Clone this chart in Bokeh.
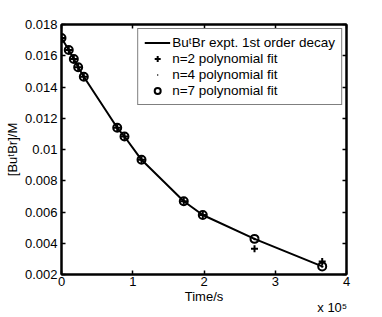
from bokeh.plotting import figure
from bokeh.models import Range1d, LinearAxis, FixedTicker, Legend, LegendItem
from bokeh.embed import file_html
from bokeh.resources import INLINE

# ---- data ----
time_s = [0, 10200, 17300, 23400, 31300, 78200, 88400, 112300, 171600, 198300, 270900, 365900]
conc_expt = [0.01714, 0.01637, 0.01579, 0.01526, 0.01466, 0.01139, 0.01083, 0.00934,
             0.00669, 0.00581, 0.00428, 0.00252]
fit_n2 = [0.01714, 0.01637, 0.01579, 0.01526, 0.01466, 0.01139, 0.01083, 0.00934,
          0.00669, 0.00581, 0.00365, 0.00283]
fit_n4 = [0.01714, 0.01637, 0.01579, 0.01526, 0.01466, 0.01139, 0.01083, 0.00934,
          0.00669, 0.00581, 0.00428, 0.00252]
fit_n7 = [0.01714, 0.01637, 0.01579, 0.01526, 0.01466, 0.01139, 0.01083, 0.00934,
          0.00669, 0.00581, 0.00428, 0.00252]

xtick_vals = [0, 100000, 200000, 300000, 400000]
xtick_labels = ["0", "1", "2", "3", "4"]
ytick_vals = [0.002, 0.004, 0.006, 0.008, 0.01, 0.012, 0.014, 0.016, 0.018]
ytick_labels = ["0.002", "0.004", "0.006", "0.008", "0.01", "0.012", "0.014", "0.016", "0.018"]

legend_labels = ["Bu\u1d57Br expt. 1st order decay", "n=2 polynomial fit",
                 "n=4 polynomial fit", "n=7 polynomial fit"]
x_label = "Time/s"
x_multiplier = "x 10\u2075"
y_label = "[Bu\u1d57Br]/M"

FONT = "Liberation Sans"

p = figure(width=382, height=317, output_backend="svg", toolbar_location=None,
           x_range=Range1d(0, 400000), y_range=Range1d(0.002, 0.018),
           min_border_left=61, min_border_right=36, min_border_top=24, min_border_bottom=38,
           y_axis_label=y_label)
p.xgrid.visible = False
p.ygrid.visible = False
p.outline_line_color = "black"
p.outline_line_width = 2
p.background_fill_color = "white"
p.border_fill_color = "white"

for ax, vals, labs in ((p.xaxis[0], xtick_vals, xtick_labels), (p.yaxis[0], ytick_vals, ytick_labels)):
    ax.ticker = FixedTicker(ticks=vals)
    ax.major_label_overrides = {v: l for v, l in zip(vals, labs)}
    ax.major_tick_in = 4
    ax.major_tick_out = 0
    ax.minor_tick_line_color = None
    ax.axis_line_width = 2
    ax.major_tick_line_width = 1.5
    ax.axis_line_color = "black"
    ax.major_tick_line_color = "black"
    ax.major_label_text_font = FONT
    ax.major_label_text_font_size = "13px"
    ax.major_label_text_color = "black"
    ax.axis_label_text_font = FONT
    ax.axis_label_text_font_size = "13px"
    ax.axis_label_text_font_style = "normal"
    ax.axis_label_text_color = "black"

p.yaxis[0].major_label_standoff = 4
p.yaxis[0].axis_label_standoff = 2
p.xaxis[0].major_label_standoff = 2


def text_axis(ticks, labels, standoff):
    ax = LinearAxis(ticker=FixedTicker(ticks=ticks),
                    major_label_overrides={t: l for t, l in zip(ticks, labels)})
    ax.axis_line_color = None
    ax.major_tick_line_color = None
    ax.minor_tick_line_color = None
    ax.major_tick_in = 0
    ax.major_tick_out = 0
    ax.major_label_standoff = standoff
    ax.major_label_text_font = FONT
    ax.major_label_text_font_size = "13px"
    ax.major_label_text_color = "black"
    return ax


# mark-less axes below carrying "Time/s" and the x 10^5 multiplier
p.add_layout(text_axis([200000], [x_label], 0), "below")
p.add_layout(text_axis([380000], [x_multiplier], -7), "below")

# box axes (top/right) with inward ticks, no labels
top = LinearAxis(ticker=FixedTicker(ticks=xtick_vals))
right = LinearAxis(ticker=FixedTicker(ticks=ytick_vals))
for ax in (top, right):
    ax.major_tick_in = 4
    ax.major_tick_out = 0
    ax.minor_tick_line_color = None
    ax.axis_line_width = 2
    ax.major_tick_line_width = 1.5
    ax.major_label_text_font_size = "1px"
    ax.major_label_text_alpha = 0
    ax.major_label_standoff = 0
p.add_layout(top, "above")
p.add_layout(right, "right")

r_line = p.line(time_s, conc_expt, line_color="black", line_width=2)
r_n2 = p.scatter(time_s, fit_n2, marker="cross", size=7, line_color="black", line_width=2)
r_n4 = p.scatter(time_s, fit_n4, marker="dot", size=10, line_color="black", fill_color="black")
r_n7 = p.scatter(time_s, fit_n7, marker="circle", size=8, fill_color=None,
                 line_color="black", line_width=2)

legend = Legend(items=[LegendItem(label=legend_labels[0], renderers=[r_line]),
                       LegendItem(label=legend_labels[1], renderers=[r_n2]),
                       LegendItem(label=legend_labels[2], renderers=[r_n4]),
                       LegendItem(label=legend_labels[3], renderers=[r_n7])],
                location="top_right")
legend.margin = 4
legend.padding = 6
legend.spacing = 1
legend.glyph_width = 26
legend.glyph_height = 15
legend.label_height = 15
legend.label_standoff = 2
legend.label_text_font = FONT
legend.label_text_font_size = "13.5px"
legend.label_text_color = "black"
legend.border_line_color = "black"
legend.border_line_width = 1.5
legend.background_fill_alpha = 1
p.add_layout(legend, "center")

open("out.html", "w").write(file_html(p, INLINE))
